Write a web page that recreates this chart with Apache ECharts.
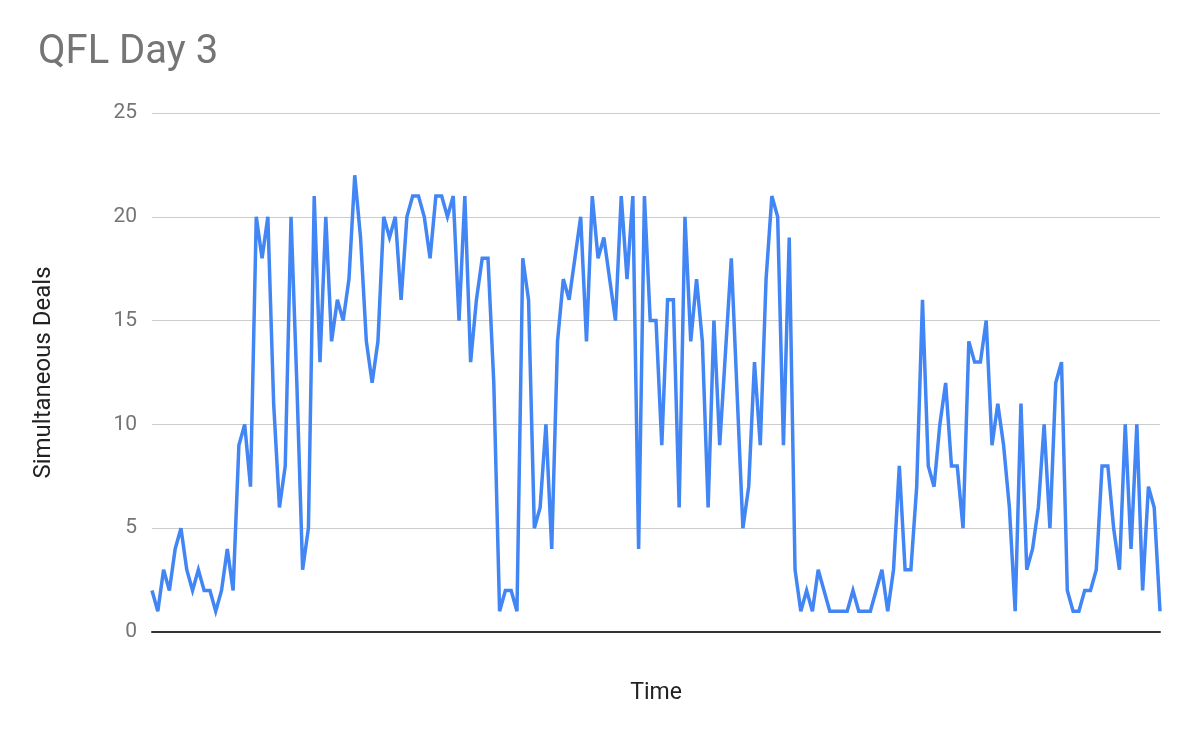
<!DOCTYPE html>
<html>
<head>
<meta charset="utf-8">
<script src="https://cdn.jsdelivr.net/npm/echarts@6/dist/echarts.min.js"></script>
<style>
  html, body { margin: 0; padding: 0; background: #fff; }
  #chart { width: 1200px; height: 742px; }
</style>
</head>
<body>
<div id="chart"></div>
<script>
// simultaneous deals per sample; null = no sample there (line is joined across)
var deals = [
  2, 1, 3, 2, 4, 5, 3, 2, 3, 2, 2, 1, 2, 4, 2, 9, 10, 7, 20, 18,
  20, 11, 6, 8, 20, 12, 3, 5, 21, 13, 20, 14, 16, 15, 17, 22, 19, 14, 12, 14,
  20, 19, 20, 16, 20, 21, 21, 20, 18, 21, 21, 20, 21, 15, 21, 13, 16, 18, 18, 12,
  1, 2, 2, 1, 18, 16, 5, 6, 10, 4, 14, 17, 16, 18, 20, 14, 21, 18, 19, 17,
  15, 21, 17, 21, 4, 21, 15, 15, 9, 16, 16, 6, 20, 14, 17, 14, 6, 15, 9, null,
  18, null, 5, 7, 13, 9, 17, 21, 20, 9, 19, 3, 1, 2, 1, 3, 2, 1, 1, 1,
  1, 2, 1, 1, 1, 2, 3, 1, 3, 8, 3, 3, 7, 16, 8, 7, 10, 12, 8, 8,
  5, 14, 13, 13, 15, 9, 11, 9, 6, 1, 11, 3, 4, 6, 10, 5, 12, 13, 2, 1,
  1, 2, 2, 3, 8, 8, 5, 3, 10, 4, 10, 2, 7, 6, 1
];

// time slots (labels are not shown on the axis)
var slots = [];
for (var i = 0; i < deals.length; i++) { slots.push("t" + (i + 1)); }

var yTicks = { min: 0, max: 25, step: 5 };

var myChart = echarts.init(document.getElementById("chart"), null, { renderer: "canvas" });
var option = {
  backgroundColor: "#ffffff",
  animation: false,
  textStyle: { fontFamily: "Roboto" },
  title: {
    text: "QFL Day 3",
    left: 33,
    top: 28,
    textStyle: { fontFamily: "Roboto", fontSize: 40, fontWeight: "normal", color: "#757575" },
  },
  grid: { left: 152, right: 40, top: 113, bottom: 110 },
  xAxis: {
    type: "category",
    data: slots,
    boundaryGap: false,
    name: "Time",
    nameLocation: "middle",
    nameGap: 50,
    nameTextStyle: { fontFamily: "Roboto", fontSize: 23, color: "#222222" },
    axisLine: { show: true, lineStyle: { color: "#333333", width: 2 } },
    axisTick: { show: false },
    axisLabel: { show: false },
    splitLine: { show: false },
  },
  yAxis: {
    type: "value",
    min: yTicks.min,
    max: yTicks.max,
    interval: yTicks.step,
    name: "Simultaneous Deals",
    nameLocation: "middle",
    nameGap: 96,
    nameTextStyle: { fontFamily: "Roboto", fontSize: 24, color: "#222222" },
    axisLine: { show: false },
    axisTick: { show: false },
    axisLabel: { fontFamily: "Roboto", fontSize: 21, color: "#757575", margin: 15 },
    splitLine: { lineStyle: { color: "#cccccc", width: 1 } },
  },
  series: [
    {
      name: "Simultaneous Deals",
      type: "line",
      data: deals,
      connectNulls: true,
      showSymbol: false,
      symbol: "none",
      lineStyle: { color: "#4285F4", width: 3.5, join: "miter", miterLimit: 4 },
      itemStyle: { color: "#4285F4" },
    },
  ],
};
myChart.setOption(option);
</script>
</body>
</html>
